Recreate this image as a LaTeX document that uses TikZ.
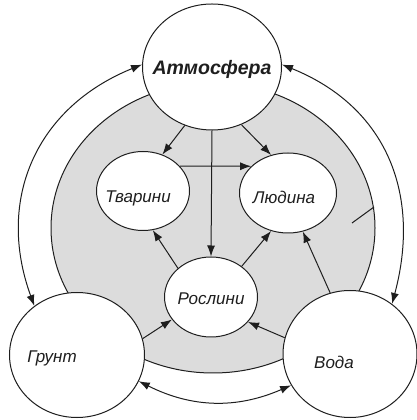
\documentclass[tikz,border=0pt]{standalone}
\usepackage{fontspec}
\setmainfont{Liberation Sans}
\usepackage{tikz}
\usetikzlibrary{arrows.meta,shapes.geometric}
\definecolor{ink}{HTML}{1E1E1E}
\definecolor{paleGrey}{HTML}{DCDCDC}

\begin{document}
\begin{tikzpicture}[x=1pt,y=1pt,>={Latex[length=11pt,width=8pt]},
  place/.style={ellipse,draw=ink,line width=1pt,fill=white,inner sep=0pt},
  word/.style={font=\fontsize{17}{17}\selectfont\itshape,text=ink},
  title/.style={font=\fontsize{19.5}{19.5}\selectfont\bfseries\itshape,text=ink},
  flow/.style={->,draw=ink,line width=1pt}]
  \useasboundingbox (0,0) rectangle (417,420);
  \fill[paleGrey] (213,192) ellipse [x radius=162,y radius=145];
  \draw[ink,line width=1pt] (213,192) ellipse [x radius=162,y radius=145];
  \node[place,minimum width=139,minimum height=126,
    label={[title,yshift=-2]center:Атмосфера}] (atm) at (212,353) {};
  \node[place,minimum width=93,minimum height=79,
    label={[word,xshift=-5,yshift=-7]center:Тварини}] (tvar) at (143,229) {};
  \node[place,minimum width=97,minimum height=80,
    label={[word,xshift=-4,yshift=-4]center:Людина}] (ljud) at (288,227) {};
  \node[place,minimum width=93,minimum height=80,
    label={[word,yshift=-2]center:Рослини}] (rosl) at (211,123) {};
  \node[place,minimum width=135,minimum height=125,
    label={[word,xshift=-25,yshift=-3]center:Грунт}] (grunt) at (77,65) {};
  \node[place,minimum width=134,minimum height=127,
    label={[word,xshift=-16,yshift=-8]center:Вода}] (voda) at (350,66) {};
  \coordinate (stubA) at (352,197);
  \coordinate (stubB) at (374,213);
  \draw[flow] (atm.245) -- (tvar.62);
  \draw[flow] (atm.297) -- (ljud.114);
  \draw[flow] (atm.south) -- (rosl.north);
  \draw[flow] (tvar.34) -- (ljud.144);
  \draw[flow] (rosl.139) -- (tvar.284);
  \draw[flow] (rosl.45) -- (ljud.246);
  \draw[flow] (voda.108) -- (ljud.291);
  \draw[flow] (grunt.14) -- (rosl.210);
  \draw[flow] (voda.166) -- (rosl.326);
  \draw[flow,<->] (grunt.337) to[bend right=25] (voda.208);
  \draw[flow,<->] (atm.178) to[out=202,in=110,looseness=1.1] (grunt.131);
  \draw[flow,<->] (atm.2) to[out=338,in=75,looseness=1.1] (voda.50);
  \draw[ink,line width=1pt] (stubA) -- (stubB);
\end{tikzpicture}
\end{document}
